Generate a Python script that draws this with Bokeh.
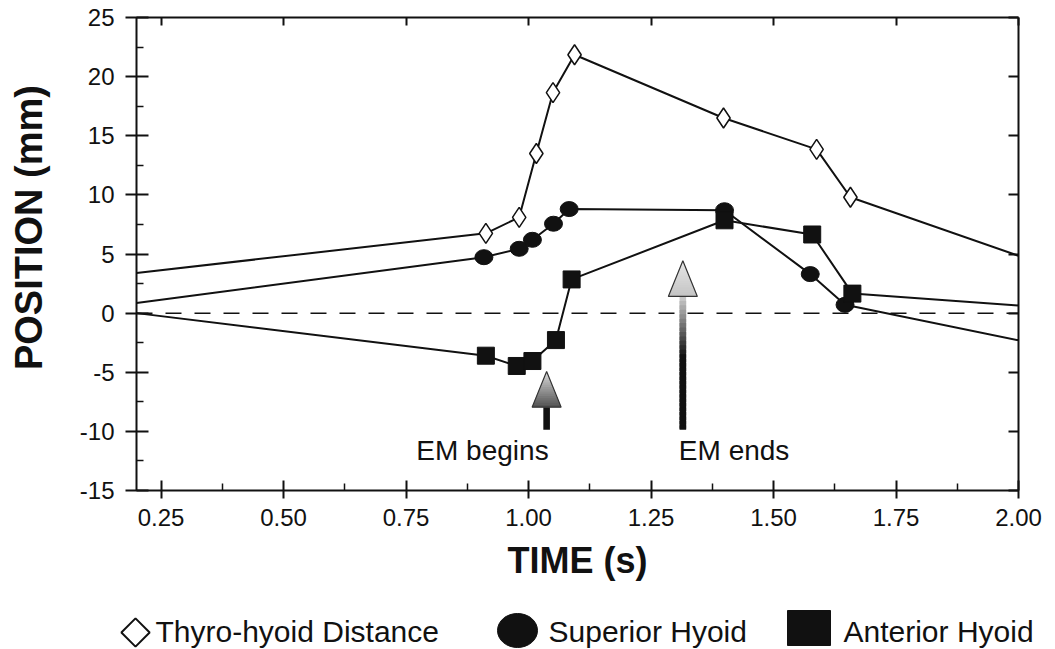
import math
from bokeh.plotting import figure
from bokeh.models import Range1d, FixedTicker, LinearAxis, Span
from bokeh.embed import file_html
from bokeh.resources import INLINE
from bokeh.core.properties import value

# ---------------- data ----------------
x_ticks = [0.25, 0.50, 0.75, 1.00, 1.25, 1.50, 1.75, 2.00]
x_labels = ["0.25", "0.50", "0.75", "1.00", "1.25", "1.50", "1.75", "2.00"]
x_minor = [0.375, 0.625, 0.875, 1.125, 1.375, 1.625, 1.875]
y_ticks = [-15, -10, -5, 0, 5, 10, 15, 20, 25]
y_labels = ["-15", "-10", "-5", "0", "5", "10", "15", "20", "25"]
y_minor = [-12.5, -7.5, -2.5, 2.5, 7.5, 12.5, 17.5, 22.5]

thyro_t = [0.20, 0.913, 0.981, 1.016, 1.050, 1.094, 1.398, 1.588, 1.657, 2.00]
thyro_y = [3.4, 6.75, 8.1, 13.5, 18.65, 21.85, 16.5, 13.85, 9.8, 4.85]
sup_t = [0.20, 0.909, 0.981, 1.008, 1.051, 1.083, 1.400, 1.575, 1.646, 2.00]
sup_y = [0.85, 4.73, 5.44, 6.2, 7.56, 8.8, 8.7, 3.3, 0.7, -2.3]
ant_t = [0.20, 0.913, 0.976, 1.008, 1.056, 1.088, 1.400, 1.579, 1.661, 2.00]
ant_y = [0.0, -3.6, -4.47, -4.05, -2.28, 2.85, 7.85, 6.65, 1.65, 0.65]

em_labels = ["EM begins", "EM ends"]
em_x = [1.037, 1.315]
em_tip = [-4.93, 4.43]
em_base = [-7.95, 1.41]
em_tail = [-9.86, -9.86]

x_title = "TIME (s)"
y_title = "POSITION (mm)"
legend_labels = ["Thyro-hyoid Distance", "Superior Hyoid", "Anterior Hyoid"]

INK = "#111111"
FONT = "Liberation Sans"
W = 1050
X0, X1, Y0, Y1 = 0.2, 2.0, -15, 25
FRAME_W = 882
DX = (X1 - X0) / FRAME_W  # data units per pixel
NBSP = "\u00a0"

p = figure(width=W, height=598, x_range=Range1d(X0, X1), y_range=Range1d(Y0, Y1),
           output_backend="svg", toolbar_location=None,
           min_border_left=136, min_border_right=W - 136 - FRAME_W, min_border_top=17,
           min_border_bottom=108)
p.xgrid.visible = False
p.ygrid.visible = False
p.outline_line_color = None
p.background_fill_color = "white"
p.border_fill_color = "white"

xa = p.xaxis[0]
ya = p.yaxis[0]
xa.ticker = FixedTicker(ticks=x_ticks, minor_ticks=x_minor)
xa.major_label_overrides = {t: l for t, l in zip(x_ticks, x_labels)}
ya.ticker = FixedTicker(ticks=y_ticks, minor_ticks=y_minor)
ya.major_label_overrides = {t: l for t, l in zip(y_ticks, y_labels)}
for ax in (xa, ya):
    ax.axis_line_width = 2
    ax.axis_line_color = INK
    ax.major_tick_line_width = 2
    ax.major_tick_line_color = INK
    ax.minor_tick_line_width = 1.5
    ax.minor_tick_line_color = INK
    ax.major_label_text_font = FONT
    ax.major_label_text_font_size = "24px"
    ax.major_label_text_color = INK
    ax.axis_label_text_font = FONT
    ax.axis_label_text_font_style = "bold"
    ax.axis_label_text_color = INK
xa.major_tick_in = 10
xa.major_tick_out = 8
xa.minor_tick_in = 7
xa.minor_tick_out = 0
xa.major_label_standoff = 10
xa.axis_label = x_title
xa.axis_label_text_font_size = "36px"
xa.axis_label_standoff = 11
ya.major_tick_in = 12
ya.major_tick_out = 11
ya.minor_tick_in = 7
ya.minor_tick_out = 0
ya.major_label_standoff = 11
# leading no-break spaces lift the title above the frame centre, as in the original
ya.axis_label = NBSP * 5 + y_title
ya.axis_label_text_font_size = "38px"
ya.axis_label_standoff = 27

top = LinearAxis(ticker=FixedTicker(ticks=x_ticks, minor_ticks=[]),
                 major_label_overrides={t: "" for t in x_ticks},
                 major_tick_in=8, major_tick_out=0, major_label_text_font_size="1px",
                 major_label_standoff=0, axis_line_width=2, axis_line_color=INK,
                 major_tick_line_width=2, major_tick_line_color=INK,
                 minor_tick_line_color=None)
p.add_layout(top, "above")
right = LinearAxis(ticker=FixedTicker(ticks=y_ticks, minor_ticks=[]),
                   major_label_overrides={t: "" for t in y_ticks},
                   major_tick_in=10, major_tick_out=0, major_label_text_font_size="1px",
                   major_label_standoff=0, axis_line_width=2, axis_line_color=INK,
                   major_tick_line_width=2, major_tick_line_color=INK,
                   minor_tick_line_color=None)
p.add_layout(right, "right")

p.add_layout(Span(location=0, dimension="width", line_color=INK, line_width=1.5,
                  line_dash="16 13"))

# series lines
for t, y in ((thyro_t, thyro_y), (sup_t, sup_y), (ant_t, ant_y)):
    p.line(t, y, line_color=INK, line_width=2)


# arrows (gradient approximated by bands)
def gray(v):
    v = int(max(0, min(255, round(v))))
    return "#%02x%02x%02x" % (v, v, v)


head_specs = [(80, 222), (196, 230)]  # (bottom gray, top gray)
N = 16
for i in range(2):
    x = em_x[i]
    tip, base, tail = em_tip[i], em_base[i], em_tail[i]
    hw = 14.5 * DX
    sw = 3.3 * DX
    if i == 0:
        p.quad(left=[x - sw], right=[x + sw], top=[base], bottom=[tail],
               fill_color=INK, line_color=None)
    else:
        M = 30
        L, R, T, B, C = [], [], [], [], []
        for k in range(M):
            f0 = k / M
            f1 = min(1.0, (k + 1.8) / M)
            L.append(x - sw)
            R.append(x + sw)
            T.append(base + (tail - base) * f0)
            B.append(base + (tail - base) * f1)
            C.append(gray(205 - (205 - 17) * min(1.0, (f0 + 0.5 / M) / 0.45)))
        p.quad(left=L, right=R, top=T, bottom=B, fill_color=C, line_color=None)
    xs, ys, cols = [], [], []
    bot, topg = head_specs[i]
    for k in range(N):
        f0 = k / N
        f1 = min(1.0, (k + 1.6) / N)
        y0 = base + (tip - base) * f0
        y1 = base + (tip - base) * f1
        w0 = hw * (1 - f0)
        w1 = hw * (1 - f1)
        xs.append([x - w0, x + w0, x + w1, x - w1])
        ys.append([y0, y0, y1, y1])
        cols.append(gray(bot + (topg - bot) * (f0 + 0.5 / N)))
    p.patches(xs, ys, fill_color=cols, line_color=None)
    p.patch([x - hw, x + hw, x], [base, base, tip], fill_color=None,
            line_color="#333333", line_width=1.2)

p.text([em_x[0]], [-12.45], text=[em_labels[0]], x_offset=2, y_offset=-10,
       text_align="right", text_baseline="alphabetic", text_font=value(FONT),
       text_font_size="28px", text_color=INK)
p.text([em_x[1]], [-12.45], text=[em_labels[1]], x_offset=-4, y_offset=-10,
       text_align="left", text_baseline="alphabetic", text_font=value(FONT),
       text_font_size="28px", text_color=INK)

# markers (interior points; the end points lie on the frame edges)
p.scatter(thyro_t[1:-1], thyro_y[1:-1], marker="diamond", size=20, fill_color="white",
          line_color=INK, line_width=1.5)
p.ellipse(sup_t[1:-1], sup_y[1:-1], width=18, height=15, width_units="screen",
          height_units="screen", fill_color=INK, line_color=INK)
p.scatter(ant_t[1:-1], ant_y[1:-1], marker="square", size=17, fill_color=INK,
          line_color=INK)

# legend strip (pixel coordinates of a separate figure)
LH = 50
leg = figure(width=W, height=LH, x_range=Range1d(0, W), y_range=Range1d(LH, 0),
             output_backend="svg", toolbar_location=None, min_border=0,
             x_axis_type=None, y_axis_type=None, outline_line_color=None)
leg.grid.visible = False
leg.scatter([135], [34], marker="square", angle=math.pi / 4, size=20, fill_color="white",
            line_color=INK, line_width=2)
leg.ellipse([517], [32], width=40, height=34, fill_color=INK, line_color=INK)
leg.rect([808.5], [29.5], width=43, height=35, fill_color=INK, line_color=INK)
leg.text([155, 548, 843], [33, 33, 33], text=legend_labels, text_align="left",
         text_baseline="alphabetic", text_font=value(FONT), text_font_size="30px",
         text_color=INK)

open("out.html", "w").write(file_html([p, leg], INLINE))
